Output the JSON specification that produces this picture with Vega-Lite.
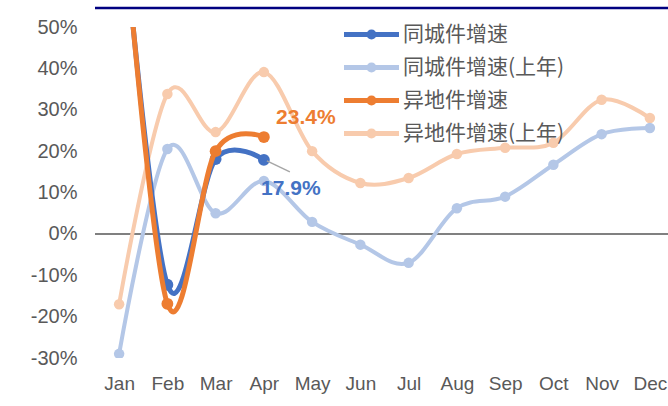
{
  "$schema": "https://vega.github.io/schema/vega-lite/v6.json",
  "width": 579,
  "height": 331,
  "autosize": {"type": "none"},
  "padding": {"left": 95, "top": 27, "right": 0, "bottom": 48},
  "background": "white",
  "config": {"view": {"stroke": null}, "font": "Liberation Sans"},
  "datasets": {
    "d": [
      {"month": "Jan", "series": "同城件增速", "value": 0.85},
      {"month": "Feb", "series": "同城件增速", "value": -0.123},
      {"month": "Mar", "series": "同城件增速", "value": 0.181},
      {"month": "Apr", "series": "同城件增速", "value": 0.179},
      {"month": "Jan", "series": "同城件增速(上年)", "value": -0.29},
      {"month": "Feb", "series": "同城件增速(上年)", "value": 0.205},
      {"month": "Mar", "series": "同城件增速(上年)", "value": 0.05},
      {"month": "Apr", "series": "同城件增速(上年)", "value": 0.128},
      {"month": "May", "series": "同城件增速(上年)", "value": 0.029},
      {"month": "Jun", "series": "同城件增速(上年)", "value": -0.026},
      {"month": "Jul", "series": "同城件增速(上年)", "value": -0.07},
      {"month": "Aug", "series": "同城件增速(上年)", "value": 0.062},
      {"month": "Sep", "series": "同城件增速(上年)", "value": 0.09},
      {"month": "Oct", "series": "同城件增速(上年)", "value": 0.167},
      {"month": "Nov", "series": "同城件增速(上年)", "value": 0.241},
      {"month": "Dec", "series": "同城件增速(上年)", "value": 0.256},
      {"month": "Jan", "series": "异地件增速", "value": 0.88},
      {"month": "Feb", "series": "异地件增速", "value": -0.169},
      {"month": "Mar", "series": "异地件增速", "value": 0.20},
      {"month": "Apr", "series": "异地件增速", "value": 0.234},
      {"month": "Jan", "series": "异地件增速(上年)", "value": -0.17},
      {"month": "Feb", "series": "异地件增速(上年)", "value": 0.338},
      {"month": "Mar", "series": "异地件增速(上年)", "value": 0.246},
      {"month": "Apr", "series": "异地件增速(上年)", "value": 0.391},
      {"month": "May", "series": "异地件增速(上年)", "value": 0.20},
      {"month": "Jun", "series": "异地件增速(上年)", "value": 0.123},
      {"month": "Jul", "series": "异地件增速(上年)", "value": 0.135},
      {"month": "Aug", "series": "异地件增速(上年)", "value": 0.193},
      {"month": "Sep", "series": "异地件增速(上年)", "value": 0.208},
      {"month": "Oct", "series": "异地件增速(上年)", "value": 0.22},
      {"month": "Nov", "series": "异地件增速(上年)", "value": 0.324},
      {"month": "Dec", "series": "异地件增速(上年)", "value": 0.28}
    ]
  },
  "data": {"name": "d"},
  "layer": [
    {
      "data": {"values": [{}]},
      "mark": {"type": "rule", "color": "#808080", "strokeWidth": 2},
      "encoding": {"y": {"datum": 0, "type": "quantitative"}}
    },
    {
      "data": {"values": [{}]},
      "mark": {"type": "rule", "color": "#000080", "strokeWidth": 2.5, "clip": false},
      "encoding": {"y": {"datum": 0.546, "type": "quantitative"}}
    },
    {
      "transform": [{"filter": "datum.series === '异地件增速(上年)'"}],
      "mark": {"type": "line", "interpolate": "cardinal", "strokeWidth": 4, "clip": true, "point": {"filled": true, "size": 110}},
      "encoding": {
        "x": {"field": "month", "type": "ordinal", "sort": ["Jan","Feb","Mar","Apr","May","Jun","Jul","Aug","Sep","Oct","Nov","Dec"], "scale": {"type": "point", "padding": 0.5},
          "axis": {"title": null, "domain": false, "ticks": false, "labelAngle": 0, "labelFontSize": 19, "labelColor": "#595959", "labelPadding": 16, "labelFont": "Liberation Sans"}},
        "y": {"field": "value", "type": "quantitative", "scale": {"domain": [-0.3, 0.5], "nice": false, "zero": false},
          "axis": {"title": null, "domain": false, "ticks": false, "grid": false, "values": [-0.3,-0.2,-0.1,0,0.1,0.2,0.3,0.4,0.5], "format": ".0%", "labelExpr": "replace(datum.label, '\u2212', '-')", "labelFontSize": 20, "labelColor": "#595959", "labelPadding": 18, "labelFont": "Liberation Sans"}},
        "color": {"field": "series", "type": "nominal",
          "scale": {"domain": ["同城件增速", "同城件增速(上年)", "异地件增速", "异地件增速(上年)"], "range": ["#4472C4", "#B4C7E7", "#ED7D31", "#F8CBAD"]},
          "legend": {"orient": "none", "legendX": 263, "legendY": -6, "title": null, "labelFontSize": 21, "labelColor": "#595959", "labelFont": "Noto Sans CJK SC", "labelLimit": 400,
            "symbolType": "M-2.5,0H2.5M-0.23,0A0.23,0.23,0,1,0,0.23,0A0.23,0.23,0,1,0,-0.23,0", "symbolSize": 484, "symbolStrokeWidth": 5, "labelOffset": 18, "rowPadding": 6}}
      }
    },
    {
      "transform": [{"filter": "datum.series === '同城件增速(上年)'"}],
      "mark": {"type": "line", "interpolate": "cardinal", "strokeWidth": 4, "clip": true, "point": {"filled": true, "size": 110}},
      "encoding": {
        "x": {"field": "month", "type": "ordinal", "sort": ["Jan","Feb","Mar","Apr","May","Jun","Jul","Aug","Sep","Oct","Nov","Dec"]},
        "y": {"field": "value", "type": "quantitative"},
        "color": {"field": "series", "type": "nominal"}
      }
    },
    {
      "transform": [{"filter": "datum.series === '同城件增速'"}],
      "mark": {"type": "line", "interpolate": "cardinal", "strokeWidth": 5, "clip": true, "point": {"filled": true, "size": 140, "clip": true}},
      "encoding": {
        "x": {"field": "month", "type": "ordinal", "sort": ["Jan","Feb","Mar","Apr","May","Jun","Jul","Aug","Sep","Oct","Nov","Dec"]},
        "y": {"field": "value", "type": "quantitative"},
        "color": {"field": "series", "type": "nominal"}
      }
    },
    {
      "transform": [{"filter": "datum.series === '异地件增速'"}],
      "mark": {"type": "line", "interpolate": "cardinal", "strokeWidth": 5, "clip": true, "point": {"filled": true, "size": 140, "clip": true}},
      "encoding": {
        "x": {"field": "month", "type": "ordinal", "sort": ["Jan","Feb","Mar","Apr","May","Jun","Jul","Aug","Sep","Oct","Nov","Dec"]},
        "y": {"field": "value", "type": "quantitative"},
        "color": {"field": "series", "type": "nominal"}
      }
    },
    {
      "transform": [{"filter": "datum.series === '同城件增速' && datum.month === 'Apr'"}],
      "mark": {"type": "rule", "color": "#A6A6A6", "strokeWidth": 1.5, "xOffset": 3, "x2Offset": 26, "yOffset": 1},
      "encoding": {
        "x": {"field": "month", "type": "ordinal", "sort": ["Jan","Feb","Mar","Apr","May","Jun","Jul","Aug","Sep","Oct","Nov","Dec"]},
        "x2": {"field": "month"},
        "y": {"field": "value", "type": "quantitative"},
        "y2": {"datum": 0.15}
      }
    },
    {
      "transform": [{"filter": "datum.series === '异地件增速' && datum.month === 'Apr'"}],
      "mark": {"type": "text", "dx": 42, "dy": -19, "fontSize": 21, "fontWeight": "bold", "color": "#ED7D31", "font": "Liberation Sans"},
      "encoding": {
        "x": {"field": "month", "type": "ordinal", "sort": ["Jan","Feb","Mar","Apr","May","Jun","Jul","Aug","Sep","Oct","Nov","Dec"]},
        "y": {"field": "value", "type": "quantitative"},
        "text": {"field": "value", "type": "quantitative", "format": ".1%"}
      }
    },
    {
      "transform": [{"filter": "datum.series === '同城件增速' && datum.month === 'Apr'"}],
      "mark": {"type": "text", "dx": 27, "dy": 29, "fontSize": 21, "fontWeight": "bold", "color": "#4472C4", "font": "Liberation Sans"},
      "encoding": {
        "x": {"field": "month", "type": "ordinal", "sort": ["Jan","Feb","Mar","Apr","May","Jun","Jul","Aug","Sep","Oct","Nov","Dec"]},
        "y": {"field": "value", "type": "quantitative"},
        "text": {"field": "value", "type": "quantitative", "format": ".1%"}
      }
    }
  ]
}
